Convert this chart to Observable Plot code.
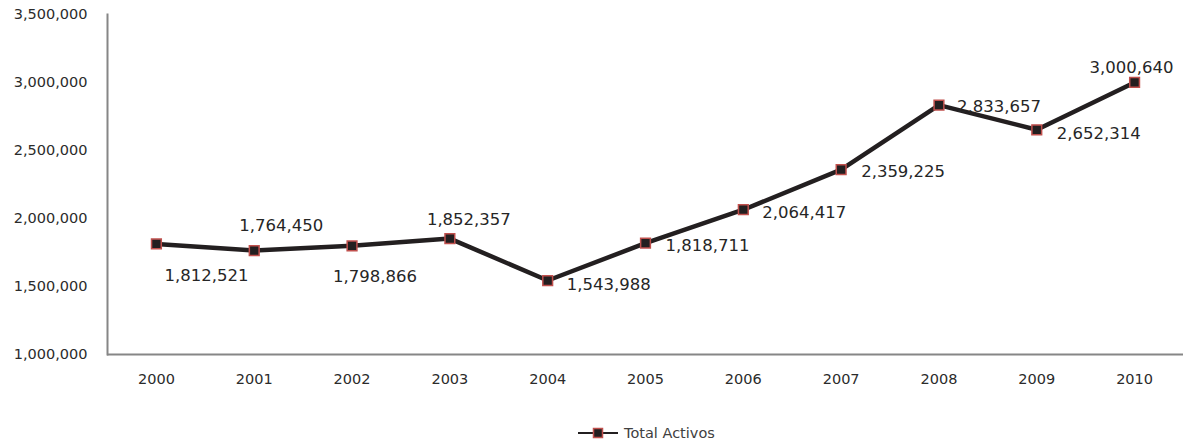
<!DOCTYPE html>
<html>
<head>
<meta charset="utf-8">
<script src="https://cdn.jsdelivr.net/npm/d3@7"></script>
<script src="https://cdn.jsdelivr.net/npm/@observablehq/plot@0.6"></script>
<style>
  body { margin: 0; background: #fff; font-family: "DejaVu Sans", Verdana, sans-serif; }
  #chart svg { display: block; }
  #legend { position: relative; height: 34px; }
  #legend .item { position: absolute; left: 578px; top: 15px; display: flex; align-items: center; gap: 6px; font-size: 14.5px; color: #404040; }
</style>
</head>
<body>
<div id="chart"></div>
<div id="legend"></div>
<script>
const years = ["2000", "2001", "2002", "2003", "2004", "2005", "2006", "2007", "2008", "2009", "2010"];
const totalActivos = [1812521, 1764450, 1798866, 1852357, 1543988, 1818711, 2064417, 2359225, 2833657, 2652314, 3000640];
const yTicks = [1000000, 1500000, 2000000, 2500000, 3000000, 3500000];
const seriesName = "Total Activos";

// label placement (styling): [dx, dy, textAnchor]
const labelPlacement = [
  [50, 32, "middle"], [27, -25, "middle"], [23, 31, "middle"], [19, -19, "middle"],
  [19, 4, "start"], [20, 3, "start"], [19, 3, "start"], [20, 2, "start"],
  [18, 2, "start"], [20, 4, "start"], [-3, -15, "middle"]
];

const data = years.map((yr, i) => ({year: yr, value: totalActivos[i]}));
const fmt = d3.format(",");
const lineColor = "#231f20";
const markerStroke = "#c0504d";
const axisColor = "#868686";

const labelMarks = data.map((d, i) => Plot.text([d], {
  x: "year", y: "value", text: (d) => fmt(d.value),
  dx: labelPlacement[i][0], dy: labelPlacement[i][1], textAnchor: labelPlacement[i][2],
  fontSize: 16.5, fill: "#262626"
}));

const chart = Plot.plot({
  width: 1188, height: 410,
  marginLeft: 107, marginRight: 5, marginTop: 14, marginBottom: 56,
  style: {fontFamily: "'DejaVu Sans', Verdana, sans-serif", fontSize: "14.5px", color: "#2b2b2b", background: "#fff"},
  x: {type: "point", domain: years, padding: 0.5, round: false, label: null},
  y: {domain: [1000000, 3500000], label: null},
  marks: [
    Plot.axisY({ticks: yTicks, tickFormat: fmt, tickSize: 0, tickPadding: 20, label: null, fontSize: 14.5}),
    Plot.axisX({tickSize: 0, tickPadding: 19, label: null, fontSize: 14.5}),
    Plot.ruleY([1000000], {stroke: axisColor, strokeWidth: 2}),
    Plot.frame({anchor: "left", stroke: axisColor, strokeWidth: 2}),
    Plot.line(data, {x: "year", y: "value", stroke: lineColor, strokeWidth: 4.5}),
    Plot.dot(data, {x: "year", y: "value", symbol: "square", r: 5.5, fill: lineColor, stroke: markerStroke, strokeWidth: 1.5}),
    ...labelMarks
  ]
});
document.getElementById("chart").appendChild(chart);

const legend = document.getElementById("legend");
const item = document.createElement("div");
item.className = "item";
item.innerHTML = `<svg width="40" height="12"><line x1="0" y1="6" x2="40" y2="6" stroke="${lineColor}" stroke-width="2"/><rect x="15.5" y="1.5" width="9" height="9" fill="${lineColor}" stroke="${markerStroke}" stroke-width="1.5"/></svg><span>${seriesName}</span>`;
legend.appendChild(item);
</script>
</body>
</html>
